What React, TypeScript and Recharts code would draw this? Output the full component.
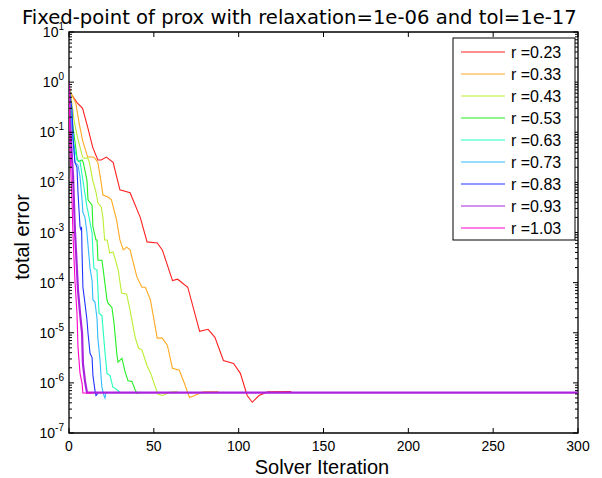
import { LineChart, Line, XAxis, YAxis, ReferenceArea } from "recharts"

// plot box in page pixels
const PL = 69
const PR = 578
const PT = 32
const PB = 433

const names = ["r =0.23", "r =0.33", "r =0.43", "r =0.53", "r =0.63", "r =0.73", "r =0.83", "r =0.93", "r =1.03"]
const colors = ["#ff2020", "#ffaa22", "#bbee33", "#22ee22", "#22ffbb", "#33bbff", "#2233ff", "#aa22dd", "#ff00cc"]

// [iteration, total error]
const r023: [number, number][] = [
  [0, 0.85], [1, 0.6], [5, 0.38], [8, 0.3], [11, 0.126], [14, 0.05], [17, 0.028], [19, 0.028],
  [22, 0.032], [26, 0.025], [30, 0.0071], [36, 0.0062], [42, 0.002], [46, 6.5e-4], [52, 6.2e-4],
  [55, 4.5e-4], [61, 1.1e-4], [64, 1.17e-4], [70, 8.1e-5], [77, 1.07e-5], [82, 1.17e-5], [86, 8.1e-6],
  [91, 2.8e-6], [97, 2.45e-6], [101, 1.55e-6], [105, 5.6e-7], [108, 4.1e-7], [112, 5.6e-7],
  [117, 6.6e-7], [131, 6.7e-7],
]
const r033: [number, number][] = [
  [0, 0.8], [1, 0.63], [4, 0.38], [6, 0.15], [8, 0.069], [11, 0.032], [14, 0.032], [15, 0.031],
  [17, 0.025], [19, 0.0098], [20, 0.0056], [23, 0.0051], [25, 0.0045], [28, 0.0018], [30, 7.1e-4],
  [32, 4.5e-4], [34, 5.1e-4], [36, 4.5e-4], [40, 1.3e-4], [43, 8.1e-5], [45, 8.1e-5], [48, 4.5e-5],
  [52, 7.8e-6], [55, 7.8e-6], [58, 5.6e-6], [61, 1.95e-6], [65, 1.78e-6], [68, 9.8e-7], [71, 5.1e-7],
  [74, 5.6e-7], [79, 6.6e-7], [88, 6.7e-7],
]
const r043: [number, number][] = [
  [0, 0.8], [1, 0.6], [3, 0.17], [5, 0.079], [8, 0.032], [9, 0.03], [11, 0.031], [12, 0.025],
  [14, 0.011], [16, 0.0062], [17, 0.0039], [19, 0.0032], [20, 0.002], [21, 7.1e-4], [22.5, 7.1e-4],
  [24, 3.9e-4], [26, 4.1e-4], [29, 1.78e-4], [31, 6.2e-5], [34, 5.9e-5], [36, 2.8e-5], [39, 8.1e-6],
  [41, 4.9e-6], [43, 4.5e-6], [46, 2.2e-6], [48, 1.6e-6], [51, 8.1e-7], [52.5, 5.9e-7], [55, 5.6e-7],
  [60, 6.6e-7], [64, 6.7e-7],
]
const r053: [number, number][] = [
  [0, 0.8], [0.6, 0.44], [2.4, 0.126], [4.7, 0.032], [5.5, 0.026], [7.7, 0.028], [8.4, 0.025],
  [10.6, 0.011], [11.2, 0.0045], [13.6, 0.0035], [14.1, 0.0013], [15.9, 7.1e-4], [16.5, 7.1e-4],
  [17.1, 2.8e-4], [19.4, 2.8e-4], [20, 2.0e-4], [22.4, 4.5e-5], [23, 3.9e-5], [25.3, 3.2e-5],
  [26.5, 1.6e-5], [28.3, 3.5e-6], [28.9, 2.6e-6], [31.2, 3.1e-6], [33, 1.7e-6], [34.8, 1.1e-6],
  [37.1, 1.07e-6], [38.9, 7.4e-7], [40, 6.2e-7], [42, 6.5e-7],
]
const r063: [number, number][] = [
  [0, 0.78], [0.6, 0.38], [2.4, 0.069], [4.7, 0.028], [6.5, 0.026], [8.2, 0.011], [10.6, 0.0032],
  [11.2, 0.0026], [13.6, 9.8e-4], [14.1, 3.9e-4], [14.7, 1.95e-4], [16.5, 1.78e-4], [17.7, 2.45e-5],
  [19.4, 2.2e-5], [21.2, 4.1e-6], [22.4, 1.55e-6], [24.2, 1.4e-6], [25.9, 8.1e-7], [27.1, 7.8e-7],
  [30, 6.5e-7],
]
const r073: [number, number][] = [
  [0, 0.78], [0.6, 0.32], [1.8, 0.126], [3.5, 0.025], [5.3, 0.022], [6.5, 0.013], [7.7, 0.0045],
  [8.2, 0.0025], [9.4, 0.002], [10.6, 9.8e-4], [11.2, 5.6e-4], [12.4, 1.95e-4], [13.6, 1.1e-4],
  [14.1, 4.5e-5], [15.3, 4.1e-5], [16.5, 1.95e-5], [17, 7.8e-6], [18.3, 2.8e-6], [18.9, 1.3e-6],
  [19.4, 8.1e-7], [20.6, 5.6e-7], [21.2, 5.0e-7], [21.8, 6.5e-7],
]
const r083: [number, number][] = [
  [0, 0.78], [1.8, 0.28], [2.4, 0.079], [3.5, 0.025], [4.7, 0.02], [5.3, 0.0062], [6.5, 0.0013],
  [7.1, 0.0011], [7.4, 0.0013], [7.7, 3.9e-4], [8.2, 8.1e-5], [9.4, 3.9e-5], [10.6, 1.78e-5],
  [11.2, 9.8e-6], [12.4, 3.9e-6], [13.6, 3.2e-6], [14.1, 1.4e-6], [15.3, 7.1e-7], [15.9, 5.6e-7],
  [17, 6.2e-7],
]
const r093: [number, number][] = [
  [0, 0.87], [0.6, 0.17], [1.8, 0.028], [2.4, 0.013], [3.5, 0.0011], [4.7, 1.78e-4], [5.3, 7.1e-5],
  [6.5, 2.45e-5], [7.7, 9.8e-6], [8.2, 2.45e-6], [9.4, 1.1e-6], [10.6, 6.4e-7], [300, 6.4e-7],
]
const r103: [number, number][] = [
  [0, 1.0], [0.2, 0.38], [0.6, 0.044], [1.8, 0.0039], [2.4, 8.1e-4], [3.5, 1.1e-4], [4.7, 2.45e-5],
  [5.3, 5.1e-6], [6.5, 1.55e-6], [7.7, 9.8e-7], [8.2, 6.3e-7], [13.6, 6.3e-7],
]

const runs = [r023, r033, r043, r053, r063, r073, r083, r093, r103]

const xTicks = [0, 50, 100, 150, 200, 250, 300]
const decades = [-7, -6, -5, -4, -3, -2, -1, 0]
const mantissas = [1, 2, 3, 4, 5, 6, 7, 8, 9]
const yTicks = [...decades.flatMap((e) => mantissas.map((m) => m * 10 ** e)), 10]

const series = runs.map((run, i) => ({
  name: names[i],
  color: colors[i],
  data: run.map(([it, err]) => ({ it, err })),
}))

const font = "'Liberation Sans', Arial, sans-serif"

function YTick(props: any) {
  const { y, payload } = props
  const lg = Math.log10(payload.value)
  const exp = Math.round(lg)
  const major = Math.abs(lg - exp) < 1e-6
  const len = major ? 5 : 3
  return (
    <g>
      <line x1={PL} x2={PL + len} y1={y} y2={y} stroke="#000" />
      <line x1={PR} x2={PR - len} y1={y} y2={y} stroke="#000" />
      {major && (
        <text x={PL - 5} y={y + 5} textAnchor="end" fontSize={14} fontFamily={font} fill="#000">
          10<tspan dy={-7} fontSize={10}>{exp}</tspan>
        </text>
      )}
    </g>
  )
}

function XTick(props: any) {
  const { x, payload } = props
  return (
    <g>
      <line x1={x} x2={x} y1={PB} y2={PB - 5} stroke="#000" />
      <line x1={x} x2={x} y1={PT} y2={PT + 5} stroke="#000" />
      <text x={x} y={PB + 18} textAnchor="middle" fontSize={14} fontFamily={font} fill="#000">
        {payload.value}
      </text>
    </g>
  )
}

export default function App() {
  return (
    <div style={{ position: "absolute", left: 0, top: 0, width: 602, height: 478, background: "#fff" }}>
      <LineChart width={602} height={478} margin={{ top: PT, right: 602 - PR, bottom: 478 - PB - 30, left: PL - 60 }}>
        <XAxis dataKey="it" type="number" domain={[0, 300]} ticks={xTicks} interval={0}
          height={30} axisLine={false} tickLine={false} tick={<XTick />} allowDataOverflow />
        <YAxis type="number" scale="log" domain={[1e-7, 10]} ticks={yTicks} interval={0}
          width={60} axisLine={false} tickLine={false} tick={<YTick />} allowDataOverflow />
        <ReferenceArea x1={0} x2={300} y1={1e-7} y2={10} fill="none" fillOpacity={0} stroke="#000" strokeWidth={1.3} />
        {series.map((s) => (
          <Line key={s.name} data={s.data} dataKey="err" name={s.name} type="linear" stroke={s.color}
            strokeWidth={s.name === "r =0.93" ? 2.2 : 1.1} dot={false} isAnimationActive={false} />
        ))}
      </LineChart>
      <svg width={602} height={478} style={{ position: "absolute", left: 0, top: 0, pointerEvents: "none" }}>
        <text x={22} y={24} fontSize={19.6} fontFamily="'DejaVu Sans', sans-serif" fill="#000">
          Fixed-point of prox with relaxation=1e-06 and tol=1e-17
        </text>
        <text x={322} y={474} textAnchor="middle" fontSize={20} fontFamily={font} fill="#000">
          Solver Iteration
        </text>
        <text x={29} y={237} textAnchor="middle" fontSize={20} fontFamily={font} fill="#000"
          transform="rotate(-90 29 237)">
          total error
        </text>
        <rect x={453} y={38} width={122} height={202} fill="#fff" stroke="#000" strokeWidth={1} />
        {series.map((s, i) => (
          <g key={s.name}>
            <line x1={461} x2={505} y1={52 + 22 * i} y2={52 + 22 * i} stroke={s.color} strokeWidth={1.2} />
            <text x={511} y={58 + 22 * i} fontSize={16} fontFamily={font} fill="#000">{s.name}</text>
          </g>
        ))}
      </svg>
    </div>
  )
}
